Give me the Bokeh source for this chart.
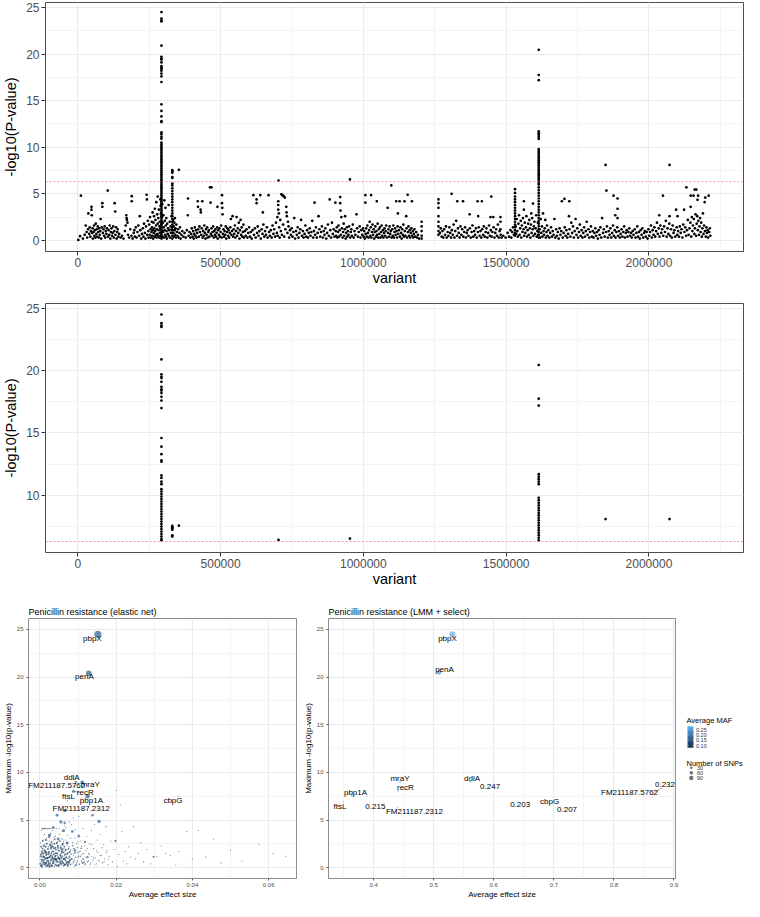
import numpy as np
from bokeh.plotting import figure
from bokeh.layouts import column, row
from bokeh.models import (Range1d, FixedTicker, NumeralTickFormatter, Span, ColumnDataSource,
                          LinearColorMapper)
from bokeh.core.properties import value
from bokeh.embed import file_html
from bokeh.resources import INLINE

FONT = "Liberation Sans"
THRESHOLD = 6.3

# ---------------- Manhattan data (position in kb, -log10 p) ----------------
peak_pbpx_kb = 293
peak_pbpx_logp = [24.5, 23.8, 23.6, 23.5, 20.9, 19.7, 19.5, 19.4, 19.1, 18.7, 18.5, 18.4, 18.2, 17.9,
                  17.6, 17.0, 14.6, 13.9, 13.3, 12.8, 12.7, 11.6, 11.4, 11.1, 10.9, 10.5, 10.3, 10.1,
                  9.9, 9.7, 9.5, 9.3, 9.1, 8.9, 8.7, 8.5, 8.3, 8.1, 7.9, 7.7, 7.5, 7.3, 7.1, 6.9, 6.7,
                  6.5, 6.4, 6.2, 6.0, 5.8, 5.6, 5.4, 5.2, 5.0, 4.8, 4.6, 4.4, 4.2, 4.0, 3.8, 3.6, 3.4,
                  3.2, 3.0, 2.8, 2.6, 2.4, 2.2, 2.0, 1.8, 1.6, 1.4, 1.2, 1.0, 0.8, 0.6, 0.4, 0.2]
peak_331_kb = 331
peak_331_logp = [7.55, 7.45, 7.35, 7.25, 6.8, 6.7, 6.1, 5.9, 5.6, 5.3, 5.0, 4.7, 4.4, 4.1, 3.8, 3.5,
                 3.2, 2.9, 2.6, 2.3, 2.0, 1.7, 1.4, 1.1, 0.8, 0.5, 0.2]
peak_penA_kb = 1614
peak_penA_logp = [20.45, 17.75, 17.2, 11.7, 11.5, 11.3, 11.1, 10.9, 9.8, 9.6, 9.4, 9.2, 9.0, 8.8, 8.6,
                  8.4, 8.2, 8.0, 7.8, 7.6, 7.4, 7.2, 7.0, 6.8, 6.6, 6.4, 6.2, 6.0, 5.7, 5.4, 5.1, 4.8,
                  4.5, 4.2, 3.9, 3.6, 3.3, 3.0, 2.7, 2.4, 2.1, 1.8, 1.5, 1.2, 0.9, 0.6, 0.3]
peak_1531_kb = 1531
peak_1531_logp = [5.5, 5.1, 4.7, 4.4, 4.1, 3.8, 3.5, 3.2, 2.9, 2.6, 2.3, 2.0, 1.7, 1.4, 1.1, 0.8, 0.5]
peak_1263_kb = 1263
peak_1263_logp = [4.4, 4.0, 3.5, 2.6, 2.0, 1.5, 1.0, 0.6]
peak_1204_kb = 1204
peak_1204_logp = [2.0, 1.5, 1.0, 0.5, 0.2]

background_snps = [
    (2,0.05),(8,0.45),(11,4.8),(18,0.2),(24,0.6),(28,1.6),(31,0.9),(33,0.3),(36,1.2),(37,2.9),(40,0.7),(42,1.4),(44,0.4),(46,1.0),(48,3.6),(48,3.3),(49,2.7),(50,0.8),(52,1.3),(53,0.2),(55,0.9),(57,1.6),(58,0.5),(60,1.1),(62,0.3),(63,1.8),(65,0.7),(67,1.2),(68,0.4),(70,1.5),(72,0.9),(74,0.3),(75,1.3),(77,0.6),(79,1.0),(80,2.3),(82,0.2),(84,1.4),(86,4.0),(86,3.6),(88,0.8),(90,1.2),(92,0.5),(94,1.5),(96,0.3),(98,1.0),
    (100,0.7),(102,1.3),(105,5.35),(106,0.4),(108,1.1),(110,0.6),(112,1.6),(114,0.2),(116,0.9),(118,1.3),(120,0.5),(122,0.8),(124,1.5),(126,0.3),(128,1.0),(129,4.0),(131,3.1),(132,0.6),(134,1.4),(136,0.2),(138,0.9),(140,1.2),(142,0.4),(145,0.7),(150,0.3),(155,0.5),(160,0.2),(165,1.0),(168,1.6),(170,2.7),(171,2.4),(172,2.2),(174,1.9),(176,0.6),(180,0.3),(184,1.2),(188,0.5),(189,4.75),(189,4.2),(192,0.2),(196,0.8),(198,1.1),
    (200,0.4),(203,1.4),(206,0.3),(209,0.9),(212,1.6),(215,0.5),(217,2.6),(219,1.1),(222,0.2),(225,0.7),(228,1.3),(230,0.4),(232,1.8),(235,0.8),(237,0.2),(239,1.5),(241,4.9),(242,4.4),(243,0.6),(245,2.1),(247,1.0),(248,0.3),(250,1.7),(252,0.6),(253,2.5),(255,1.2),(256,0.3),(258,0.9),(259,2.0),(260,1.4),(261,0.5),(262,3.0),(263,1.1),(264,0.2),(265,1.9),(266,0.8),(267,2.6),(268,1.3),(269,0.4),(270,3.4),(271,1.0),(272,2.2),(273,0.6),(274,1.6),(275,4.1),(276,0.3),(277,1.2),(278,2.8),(279,0.7),(280,4.7),(280,1.8),(281,0.5),(282,2.4),(283,1.1),(284,3.3),(285,0.3),(286,1.5),(287,2.0),(288,0.8),(289,4.4),(289,1.3),(290,3.7),(290,0.5),(291,2.9),(292,1.7),(295,2.5),(295,1.0),(296,3.9),(297,0.4),(298,1.9),(299,0.9),(300,2.7),(301,1.4),(302,0.3),
    (303,4.3),(304,1.1),(305,2.1),(306,0.6),(307,3.5),(308,1.6),(309,0.4),(310,2.4),(311,1.0),(312,0.2),(313,1.8),(315,0.7),(316,1.3),(318,3.8),(319,0.5),(320,1.1),(322,2.0),(323,0.3),(325,1.5),(326,0.8),(328,2.6),(329,1.2),(334,2.2),(335,0.8),(336,1.5),(337,0.4),(338,1.9),(339,1.1),(340,2.4),(341,0.6),(342,1.3),(344,0.3),(345,1.7),(347,0.9),(349,0.5),(351,1.2),(353,0.3),(354,7.57),(356,0.8),(358,1.4),(360,0.2),(363,0.6),(366,1.0),(370,0.4),(374,0.8),(378,0.3),(382,1.1),(385,2.7),(386,4.5),(388,0.5),(391,0.9),(394,0.3),(397,0.7),(399,1.3),
    (402,0.4),(404,1.0),(406,0.2),(408,0.7),(410,1.4),(412,0.5),(414,1.1),(416,0.3),(418,0.8),(420,4.2),(421,3.6),(422,1.2),(424,0.4),(426,1.5),(428,0.9),(430,3.3),(431,3.0),(432,0.6),(434,1.3),(436,4.2),(437,0.3),(439,1.0),(441,0.5),(443,1.6),(445,0.8),(447,0.2),(449,1.2),(451,0.6),(453,1.4),(455,0.3),(457,0.9),(459,1.1),(461,0.4),(463,5.7),(468,5.7),(465,4.05),(466,0.7),(468,1.3),(470,0.5),(472,0.9),(474,1.5),(476,0.3),(478,1.0),(480,0.6),(482,1.2),(484,0.4),(486,0.8),(488,1.4),(489,3.6),(490,0.2),(492,1.1),(494,0.6),(496,1.3),(498,0.4),
    (500,0.9),(502,1.6),(504,0.3),(505,4.85),(505,4.0),(506,3.5),(507,2.8),(508,0.7),(510,1.2),(512,0.4),(514,1.0),(516,0.6),(518,1.5),(520,0.2),(522,0.9),(524,1.3),(526,0.5),(528,1.1),(530,0.3),(532,0.8),(534,1.4),(536,2.3),(538,0.6),(540,1.0),(542,2.6),(544,0.4),(546,1.2),(548,0.7),(550,1.6),(552,0.3),(554,1.0),(556,2.5),(558,0.5),(560,1.3),(562,0.8),(564,1.9),(566,0.2),(568,1.1),(570,2.2),(572,0.6),(574,1.4),(576,0.4),(578,0.9),(580,1.7),(582,0.3),(585,1.0),(588,0.5),(591,1.2),(594,0.3),(597,0.8),
    (600,1.4),(603,0.4),(606,0.9),(609,0.2),(612,1.1),(615,4.85),(617,0.6),(620,1.3),(623,0.3),(626,4.4),(626,4.0),(628,0.8),(630,1.5),(633,0.5),(636,1.0),(639,4.85),(641,0.2),(644,1.2),(647,0.7),(648,3.0),(650,1.7),(653,0.4),(656,1.0),(659,0.6),(662,1.4),(665,0.3),(668,4.85),(670,0.9),(673,0.5),(676,1.1),(679,0.3),(682,1.6),(685,0.7),(688,1.2),(691,0.4),(694,1.9),(697,0.8),(699,2.5),
    (700,0.5),(702,4.2),(702,3.8),(702,3.3),(703,6.43),(704,2.9),(705,1.4),(707,0.3),(709,2.2),(711,1.0),(713,4.95),(715,0.6),(717,4.85),(719,1.7),(721,4.75),(723,0.4),(725,4.6),(727,1.2),(730,3.6),(731,3.0),(732,2.6),(734,0.8),(736,2.0),(738,1.5),(740,0.3),(743,1.1),(746,0.6),(749,1.3),(752,0.4),(755,0.9),(758,2.4),(761,0.2),(764,1.0),(767,0.6),(770,1.4),(773,0.3),(776,0.8),(779,1.2),(782,2.2),(785,0.5),(788,1.0),(791,0.3),(794,0.7),(797,1.6),
    (800,0.4),(803,1.1),(806,0.3),(809,0.8),(812,1.3),(815,0.5),(818,0.9),(821,2.1),(824,0.3),(827,1.0),(829,4.05),(831,0.6),(834,1.4),(837,0.3),(840,0.8),(843,2.6),(846,1.2),(849,0.4),(852,0.9),(855,1.5),(858,0.3),(861,1.0),(864,0.6),(867,1.3),(870,0.2),(873,0.8),(876,1.7),(879,0.5),(882,4.4),(884,1.1),(887,0.3),(890,1.9),(893,0.7),(896,1.2),(899,0.4),
    (902,4.05),(903,1.0),(905,0.5),(907,1.4),(909,0.3),(911,0.9),(913,1.6),(915,0.4),(917,1.1),(919,4.65),(919,4.0),(920,3.2),(921,0.6),(923,2.5),(925,1.3),(927,0.3),(929,0.9),(931,1.8),(933,0.5),(935,1.2),(936,2.6),(938,0.2),(940,0.8),(942,1.4),(944,0.4),(946,1.0),(948,0.6),(950,1.5),(953,6.54),(954,0.3),(956,0.9),(958,1.2),(960,0.5),(963,1.7),(966,0.3),(969,1.0),(972,0.6),(976,2.8),(978,1.3),(981,0.4),(984,0.9),(987,1.5),(990,0.3),(993,1.1),(996,0.6),(999,1.3),
    (1001,0.4),(1003,1.0),(1005,0.2),(1007,4.85),(1007,4.05),(1008,0.7),(1010,1.3),(1012,0.4),(1014,1.6),(1016,0.8),(1018,0.3),(1020,1.1),(1022,2.0),(1024,0.5),(1026,1.4),(1027,4.85),(1028,0.3),(1030,0.9),(1032,1.7),(1034,0.6),(1036,1.2),(1038,0.2),(1040,0.9),(1042,1.5),(1044,0.4),(1046,1.0),(1047,4.2),(1048,0.6),(1050,1.8),(1052,0.3),(1054,1.2),(1056,0.7),(1058,1.4),(1060,0.3),(1062,0.9),(1064,1.6),(1066,0.5),(1068,1.1),(1070,0.3),(1072,0.8),(1074,1.3),(1076,0.5),(1078,1.0),(1080,1.6),(1082,0.3),(1085,3.5),(1086,0.8),(1088,1.2),(1090,0.4),(1092,1.5),(1094,0.7),(1096,1.0),(1098,5.9),(1099,0.3),
    (1101,1.2),(1103,0.5),(1105,1.6),(1107,0.3),(1109,0.9),(1111,1.3),(1113,0.6),(1115,4.2),(1116,1.0),(1118,0.3),(1120,1.5),(1121,2.9),(1122,0.7),(1124,1.1),(1127,4.2),(1128,0.4),(1130,1.4),(1132,0.8),(1134,0.2),(1136,1.2),(1138,0.6),(1140,1.7),(1142,0.4),(1144,4.2),(1145,1.0),(1147,0.5),(1150,2.6),(1151,1.3),(1153,0.3),(1155,4.9),(1156,0.9),(1158,1.5),(1160,0.5),(1162,1.1),(1164,0.3),(1166,0.8),(1168,1.3),(1170,4.2),(1171,0.5),(1173,1.0),(1175,0.3),(1177,0.7),(1179,1.2),(1182,0.4),(1185,0.9),(1188,0.3),(1191,0.6),(1195,0.2),
    (1268,0.8),(1271,1.3),(1274,0.4),(1277,1.0),(1280,0.3),(1283,1.2),(1286,0.6),(1289,1.5),(1292,0.3),(1295,0.9),(1298,0.5),(1301,1.4),(1304,0.8),(1307,0.3),(1309,5.0),(1310,1.1),(1313,0.6),(1316,1.7),(1319,0.3),(1322,1.0),(1325,2.1),(1328,0.5),(1329,4.2),(1331,1.3),(1334,0.8),(1337,0.3),(1340,1.5),(1343,0.6),(1346,1.2),(1349,4.2),(1350,0.4),(1353,0.9),(1356,1.4),(1359,0.3),(1362,0.8),(1365,1.1),(1368,0.5),(1372,2.8),(1373,1.3),(1376,0.3),(1379,0.9),(1382,1.6),(1385,0.4),(1388,1.0),(1391,0.6),(1394,1.3),(1397,0.3),
    (1400,4.2),(1401,0.9),(1402,2.6),(1404,1.4),(1407,0.5),(1410,1.0),(1413,0.3),(1415,4.2),(1416,1.2),(1419,0.6),(1422,1.5),(1425,0.4),(1428,0.9),(1431,1.3),(1434,0.3),(1437,0.8),(1440,1.6),(1443,0.5),(1445,2.5),(1446,1.1),(1448,4.7),(1449,0.4),(1452,0.9),(1455,2.5),(1456,1.4),(1459,0.3),(1462,0.8),(1465,1.2),(1468,0.5),(1471,1.7),(1474,0.3),(1477,1.0),(1480,2.5),(1480,2.0),(1480,1.2),(1481,0.6),(1484,0.3),(1490,0.5),(1498,0.3),(1505,0.8),(1510,0.4),(1515,1.1),(1518,0.3),(1521,0.9),(1524,1.4),(1527,0.6),
    (1533,1.5),(1535,0.7),(1537,2.3),(1539,1.0),(1541,0.4),(1543,1.8),(1545,2.7),(1547,0.6),(1549,1.3),(1551,2.1),(1553,0.3),(1555,1.6),(1557,0.9),(1559,2.4),(1561,1.2),(1562,4.2),(1562,3.3),(1563,0.5),(1565,1.9),(1567,0.8),(1569,1.4),(1571,2.6),(1573,0.4),(1575,1.1),(1577,1.8),(1579,0.6),(1581,2.2),(1583,1.3),(1585,0.3),(1587,1.7),(1588,2.9),(1589,0.8),(1591,2.4),(1593,1.2),(1594,3.95),(1595,0.5),(1597,1.5),(1599,2.0),(1601,0.7),(1603,1.3),(1605,2.7),(1607,0.4),(1609,1.0),(1611,1.9),(1612,0.6),
    (1617,1.2),(1619,0.3),(1621,2.3),(1623,0.8),(1625,1.5),(1627,0.4),(1629,2.9),(1631,1.0),(1633,0.6),(1635,1.3),(1637,2.2),(1639,0.3),(1641,0.9),(1643,1.6),(1645,0.5),(1648,1.1),(1651,0.3),(1654,0.8),(1657,1.4),(1660,0.4),(1663,1.0),(1666,0.6),(1669,2.3),(1672,0.3),(1675,1.2),(1678,0.5),(1681,0.9),(1684,0.2),(1687,1.3),(1690,0.6),(1693,1.0),(1695,4.2),(1698,0.3),(1701,0.8),(1704,4.45),(1705,1.4),(1708,0.5),(1711,1.1),(1714,0.3),(1717,0.7),(1720,2.6),(1721,4.2),(1722,1.2),(1725,0.4),(1728,1.9),(1731,0.8),(1734,1.5),(1737,0.3),(1740,1.0),(1743,2.3),(1746,0.6),(1749,1.3),(1752,0.3),(1755,0.9),(1758,1.7),(1761,0.5),(1764,1.1),(1767,0.3),(1770,0.8),(1773,1.4),(1776,0.4),(1779,1.0),(1782,2.0),(1785,0.6),(1788,1.2),(1791,0.3),(1794,0.9),(1797,1.5),
    (1800,0.4),(1803,1.0),(1806,0.3),(1809,0.8),(1812,1.3),(1815,0.5),(1818,0.9),(1821,0.2),(1824,1.1),(1827,0.6),(1830,1.4),(1833,0.3),(1836,2.4),(1839,0.8),(1842,1.2),(1845,0.4),(1848,8.1),(1851,5.35),(1850,0.9),(1853,1.5),(1856,0.3),(1859,1.0),(1862,0.6),(1865,1.3),(1868,0.3),(1871,0.8),(1874,1.6),(1876,4.8),(1877,0.5),(1880,1.1),(1882,2.7),(1883,0.3),(1886,0.9),(1889,1.4),(1890,4.5),(1890,3.4),(1890,2.4),(1892,0.5),(1895,1.0),(1898,0.3),(1901,0.7),(1904,1.2),(1907,0.4),(1910,0.9),(1913,1.5),(1916,0.3),(1919,0.8),(1922,1.1),(1925,0.4),(1928,0.9),(1931,1.3),(1934,0.5),(1937,0.8),(1940,0.3),(1943,1.0),(1946,0.6),
    (1950,1.2),(1953,0.3),(1956,0.8),(1959,1.5),(1962,0.4),(1965,0.9),(1968,0.2),(1971,1.1),(1974,0.6),(1977,1.3),(1980,0.3),(1983,0.8),(1986,1.0),(1989,0.4),(1992,0.9),(1995,0.2),(1998,1.2),(2001,0.5),(2004,0.9),(2007,1.6),(2010,0.3),(2013,1.1),(2016,0.6),(2019,1.4),(2022,0.4),(2025,1.0),(2028,1.9),(2031,0.7),(2034,1.3),(2036,2.7),(2037,0.4),(2040,1.6),(2043,0.8),(2046,1.2),(2049,4.8),(2050,0.5),(2053,1.5),(2056,0.9),(2059,2.1),(2062,0.4),(2065,1.3),(2068,0.7),(2071,1.8),(2072,8.1),(2072,2.6),(2074,0.5),(2077,1.2),(2080,0.3),(2083,1.6),(2086,0.8),(2089,1.1),(2092,0.4),(2095,3.3),(2097,1.4),(2099,0.6),
    (2100,2.6),(2102,1.0),(2105,0.4),(2108,1.5),(2111,0.8),(2114,1.2),(2117,0.3),(2120,1.7),(2123,3.3),(2124,0.9),(2127,1.4),(2130,0.5),(2131,5.7),(2133,1.1),(2136,2.2),(2139,0.6),(2142,1.3),(2145,1.9),(2146,4.8),(2146,3.6),(2148,0.4),(2150,2.5),(2152,1.0),(2154,1.6),(2156,4.8),(2157,2.3),(2159,0.7),(2160,5.45),(2161,1.3),(2163,2.8),(2165,0.5),(2166,5.45),(2167,1.8),(2169,2.6),(2170,4.35),(2171,1.1),(2172,4.8),(2173,2.1),(2175,0.6),(2177,1.5),(2179,2.4),(2181,0.9),(2183,1.9),(2185,0.4),(2187,1.3),(2189,2.9),(2191,0.7),(2193,1.6),(2195,4.1),(2196,1.0),(2197,4.6),(2199,0.4),(2201,1.4),(2203,0.8),(2205,1.1),(2207,0.3),(2209,4.8),(2211,0.9),(2213,1.3),(2215,0.5),
]

# ---------------- Gene summary: elastic net ----------------
enet_genes = ["pbpX", "penA", "ddlA", "mraY", "FM211187.5762", "recR", "ftsL", "pbp1A", "FM211187.2312", "cbpG"]
enet_gene_effect = [0.0152, 0.0128, 0.0094, 0.0111, 0.0091, 0.0088, 0.0072, 0.0125, 0.0065, 0.0363]
enet_gene_logp = [24.5, 20.4, 9.0, 8.95, 8.55, 8.0, 7.0, 7.5, 6.0, 7.5]
enet_gene_maf = [0.17, 0.16, 0.19, 0.16, 0.14, 0.17, 0.18, 0.16, 0.17, 0.14]
enet_gene_nsnp = [240, 150, 30, 75, 12, 40, 8, 95, 55, 3]
enet_label_x = [0.01375, 0.01167, 0.00833, 0.0132, 0.0044, 0.0119, 0.0075, 0.0135, 0.0108, 0.0349]
enet_label_y = [24.0, 20.06, 9.47, 8.7, 8.58, 7.9, 7.42, 7.05, 6.23, 7.08]

# other genes: (effect, max -log10 p, MAF, number of SNPs)
enet_other = [
    (0.0045,5.5,0.17,40),(0.0055,4.8,0.16,50),(0.0035,4.2,0.15,40),(0.0062,3.9,0.17,45),(0.0085,3.8,0.18,35),(0.0025,3.4,0.14,45),(0.0048,3.0,0.16,40),(0.0072,2.6,0.15,30),(0.0102,3.3,0.17,35),(0.0118,2.7,0.16,25),(0.0138,5.5,0.18,35),(0.0155,4.85,0.18,60),(0.0065,4.7,0.2,35),(0.003,2.2,0.15,35),(0.0015,1.6,0.13,40),(0.0058,1.9,0.14,35),(0.0092,1.8,0.16,30),(0.0042,0.9,0.15,30),(0.0075,0.6,0.16,30),(0.0125,1.1,0.18,25),(0.0112,0.5,0.17,25),(0.0198,2.8,0.15,25),(0.0298,1.15,0.15,20),(0.0022,0.3,0.15,30),(0.0065,0.3,0.2,30),
    (0.0003,1.4,0.10,20),(0.0005,0.1,0.12,15),(0.0007,2.0,0.11,18),(0.0009,1.2,0.13,22),(0.0012,0.5,0.10,16),(0.0015,2.2,0.12,19),(0.0018,1.0,0.14,25),(0.0022,1.4,0.11,17),(0.0025,0.1,0.10,20),(0.0029,2.0,0.13,21),(0.0032,1.2,0.12,16),(0.0035,0.7,0.11,23),(0.0038,2.5,0.14,18),(0.0041,1.5,0.12,20),(0.0044,0.2,0.11,15),(0.0047,2.1,0.13,22),(0.0050,1.0,0.12,18),(0.0053,0.6,0.10,20),(0.0056,1.5,0.14,16),(0.0059,2.4,0.12,19),(0.0062,0.9,0.11,17),(0.0067,1.8,0.13,15),(0.0070,0.4,0.12,18),(0.0077,1.6,0.11,14),(0.0082,0.9,0.13,16),(0.0089,2.0,0.12,13),(0.0095,0.3,0.11,15),(0.0101,1.2,0.13,12),(0.0108,2.0,0.12,11),(0.0116,0.6,0.11,12),
    (0.0001,0.9,0.08,4),(0.0002,2.6,0.10,5),(0.0004,3.9,0.12,4),(0.0006,0.3,0.09,6),(0.0009,2.9,0.11,5),(0.0012,3.5,0.10,6),(0.0014,1.6,0.13,4),(0.0016,0.1,0.09,7),(0.0019,2.9,0.12,5),(0.0022,2.2,0.11,6),(0.0025,1.6,0.10,4),(0.0028,0.6,0.12,8),(0.0032,3.9,0.11,5),(0.0035,2.9,0.10,6),(0.0038,0.1,0.13,7),(0.0041,3.3,0.12,5),(0.0044,2.5,0.11,4),(0.0047,1.0,0.10,6),(0.0050,4.1,0.12,4),(0.0053,2.0,0.11,5),(0.0056,0.3,0.13,6),(0.0059,3.8,0.10,4),(0.0062,2.7,0.12,5),(0.0065,1.3,0.11,6),(0.0068,4.2,0.10,3),(0.0071,2.4,0.13,4),(0.0074,1.9,0.12,5),(0.0077,4.8,0.11,3),(0.0080,3.1,0.10,4),(0.0087,5.2,0.12,3),(0.0093,4.0,0.11,3),(0.0099,2.7,0.12,4),
    (0.0002,0.2,0.09,6),(0.0004,0.6,0.10,8),(0.0006,1.1,0.11,5),(0.0008,0.4,0.09,10),(0.0010,1.8,0.12,7),(0.0011,0.8,0.10,12),(0.0013,2.4,0.11,6),(0.0014,0.3,0.09,9),(0.0016,1.3,0.12,11),(0.0017,3.1,0.10,5),(0.0019,0.7,0.11,14),(0.0020,4.1,0.12,4),(0.0021,1.9,0.09,8),(0.0023,0.5,0.10,12),(0.0024,2.8,0.13,6),(0.0026,1.1,0.11,15),(0.0027,0.2,0.09,7),(0.0028,3.6,0.12,9),(0.0030,1.5,0.10,11),(0.0031,0.9,0.13,13),(0.0033,2.5,0.11,8),(0.0034,0.4,0.10,10),(0.0036,1.7,0.12,12),(0.0037,3.2,0.14,7),(0.0039,1.0,0.09,9),(0.0040,2.1,0.11,15),(0.0042,0.6,0.10,6),(0.0043,4.1,0.13,5),(0.0045,1.3,0.12,12),(0.0046,2.7,0.10,8),(0.0048,0.3,0.11,10),(0.0049,1.8,0.14,9),(0.0051,3.5,0.12,7),(0.0052,0.8,0.10,13),(0.0054,2.3,0.11,6),(0.0055,1.2,0.13,11),(0.0057,0.5,0.09,8),(0.0058,3.0,0.12,10),(0.0060,1.6,0.10,7),(0.0061,0.2,0.11,12),(0.0063,2.0,0.13,9),(0.0064,4.4,0.12,6),(0.0066,1.0,0.10,14),(0.0068,2.9,0.11,5),(0.0069,0.6,0.12,8),(0.0071,1.4,0.09,10),(0.0073,3.4,0.13,7),(0.0074,0.3,0.10,11),(0.0076,2.2,0.11,6),(0.0078,1.1,0.12,9),(0.0079,0.7,0.10,12),(0.0081,1.9,0.14,8),(0.0083,4.5,0.11,5),(0.0084,0.4,0.10,7),(0.0086,2.6,0.12,10),(0.0088,1.3,0.11,6),(0.0090,0.8,0.13,9),(0.0092,3.1,0.10,4),(0.0094,1.6,0.12,8),(0.0096,0.5,0.11,6),(0.0098,2.1,0.10,7),(0.0100,1.0,0.13,5),(0.0102,5.4,0.12,4),(0.0103,0.3,0.10,6),(0.0105,1.7,0.11,8),(0.0107,2.8,0.12,5),(0.0109,0.7,0.10,7),(0.0111,1.4,0.13,4),(0.0113,4.1,0.11,3),(0.0115,0.9,0.10,6),(0.0117,2.3,0.12,5),(0.0119,0.4,0.11,7),(0.0121,1.8,0.10,4),(0.0123,3.3,0.13,3),(0.0125,0.6,0.11,5),(0.0128,1.5,0.10,6),(0.0130,2.5,0.12,4),(0.0132,0.3,0.11,5),(0.0134,3.9,0.10,3),(0.0136,1.2,0.12,4),(0.0139,0.8,0.11,6),(0.0141,2.0,0.10,3),(0.0143,4.5,0.13,2),(0.0145,1.0,0.11,4),(0.0148,0.4,0.10,5),(0.0150,2.9,0.12,3),(0.0152,1.6,0.11,4),(0.0155,0.7,0.10,3),(0.0158,3.5,0.12,2),(0.0161,1.3,0.11,3),(0.0164,0.5,0.10,4),(0.0167,2.4,0.12,2),(0.0170,0.9,0.11,3),(0.0173,4.3,0.10,2),(0.0176,1.8,0.12,2),(0.0179,0.3,0.11,3),(0.0182,1.2,0.10,2),(0.0186,2.8,0.12,2),(0.0190,0.6,0.11,2),(0.0194,1.9,0.10,3),(0.0200,8.1,0.12,1),(0.0203,0.1,0.11,2),(0.0207,1.4,0.10,2),(0.0211,6.6,0.12,1),(0.0215,3.8,0.11,2),(0.0219,0.7,0.10,2),(0.0224,1.7,0.12,1),(0.0228,0.4,0.11,2),(0.0233,2.2,0.10,1),(0.0238,1.1,0.12,2),(0.0245,4.3,0.11,2),(0.0250,0.9,0.10,1),(0.0258,1.5,0.12,2),(0.0265,2.6,0.11,1),(0.0272,0.6,0.10,1),(0.0280,1.9,0.12,1),(0.0290,0.4,0.11,2),(0.0305,1.2,0.10,3),(0.0318,2.3,0.12,1),(0.0330,1.5,0.11,1),(0.0342,1.3,0.10,1),(0.0356,0.25,0.12,1),(0.0365,1.7,0.11,1),(0.0385,3.8,0.10,1),(0.0400,0.9,0.12,1),(0.0415,3.9,0.11,1),(0.0435,1.1,0.10,1),(0.0455,3.0,0.12,1),(0.0475,0.5,0.11,1),(0.0500,1.8,0.10,1),(0.0530,0.7,0.12,1),(0.0575,2.4,0.11,1),(0.0612,1.5,0.10,2),(0.0645,1.2,0.12,1),
    (0.0001,0.4,0.10,18),(0.0002,1.2,0.11,22),(0.0003,2.2,0.12,16),(0.0004,0.2,0.09,25),(0.0005,1.7,0.10,20),(0.0006,0.8,0.12,28),(0.0007,2.8,0.11,14),(0.0008,1.5,0.10,24),(0.0009,0.6,0.09,19),(0.0010,2.3,0.12,21),(0.0011,1.1,0.11,26),(0.0012,0.3,0.10,17),(0.0013,1.8,0.09,23),(0.0014,0.9,0.12,20),(0.0015,2.9,0.11,15),(0.0016,0.5,0.10,27),(0.0017,1.4,0.13,22),(0.0018,2.5,0.09,18),(0.0019,0.2,0.11,24),(0.0020,1.0,0.10,29),(0.0021,2.0,0.12,16),(0.0022,0.7,0.11,21),(0.0023,1.6,0.09,25),(0.0024,3.2,0.10,14),(0.0025,1.1,0.12,23),(0.0026,0.4,0.11,19),(0.0027,2.4,0.10,26),(0.0028,1.3,0.09,20),(0.0029,0.8,0.12,22),(0.0030,2.7,0.11,17),(0.0031,0.2,0.10,28),(0.0032,1.7,0.13,21),(0.0033,1.0,0.09,24),(0.0034,2.2,0.11,18),(0.0035,0.5,0.10,25),(0.0036,1.4,0.12,20),(0.0037,2.0,0.11,16),(0.0038,0.9,0.09,27),(0.0039,3.0,0.12,15),(0.0040,1.2,0.10,23),(0.0041,0.3,0.11,19),(0.0042,1.9,0.13,22),(0.0043,0.8,0.10,26),(0.0044,2.6,0.09,17),(0.0045,1.5,0.12,21),(0.0046,0.6,0.11,24),(0.0047,2.3,0.10,18),(0.0048,1.1,0.12,20),(0.0049,0.2,0.09,25),(0.0050,1.8,0.11,16),(0.0051,0.9,0.10,22),(0.0052,2.8,0.12,14),(0.0053,1.3,0.11,19),(0.0054,0.4,0.09,23),(0.0055,2.1,0.10,18),(0.0056,1.0,0.12,21),(0.0057,1.7,0.11,16),(0.0058,0.7,0.10,20),(0.0059,1.2,0.13,17),(0.0060,2.5,0.09,15),(0.0061,0.5,0.11,22),(0.0062,1.6,0.10,18),(0.0063,0.9,0.12,20),(0.0064,2.2,0.11,14),(0.0065,0.3,0.10,19),(0.0066,1.4,0.09,16),(0.0067,0.8,0.12,18),(0.0068,1.9,0.11,13),(0.0069,1.1,0.10,17),(0.0070,2.6,0.12,12),(0.0071,0.6,0.11,15),(0.0072,1.5,0.09,14),(0.0073,0.2,0.10,16),(0.0074,1.0,0.12,13),(0.0075,2.0,0.11,12),(0.0076,0.5,0.10,15),(0.0077,1.2,0.13,11),(0.0078,0.8,0.09,14),(0.0079,1.7,0.11,12),(0.0080,0.3,0.10,13),(0.0082,1.4,0.12,11),(0.0084,0.9,0.11,12),(0.0086,2.3,0.10,10),(0.0088,0.6,0.09,12),(0.0090,1.5,0.12,10),(0.0092,0.2,0.11,11),(0.0094,1.1,0.10,9),(0.0096,2.5,0.12,8),(0.0098,0.7,0.11,10),(0.0100,1.6,0.10,9),(0.0103,0.4,0.12,8),(0.0106,1.2,0.11,9),(0.0109,2.2,0.10,7),(0.0112,0.9,0.12,8),(0.0115,1.5,0.11,7),(0.0118,0.3,0.10,8),(0.0121,1.1,0.12,6),(0.0124,2.0,0.11,6),(0.0127,0.7,0.10,7),(0.0130,1.4,0.12,5),(0.0133,0.5,0.11,6),(0.0136,2.4,0.10,5),(0.0140,1.0,0.12,5),(0.0144,0.3,0.11,4),(0.0148,1.8,0.10,4),(0.0153,0.8,0.12,4),(0.0158,1.3,0.11,3),(0.0163,2.1,0.10,3),(0.0168,0.6,0.12,3),(0.0174,1.6,0.11,3),(0.0180,0.9,0.10,2),
    (0.0006,4.1,0.09,12),(0.0011,4.1,0.09,14),(0.0016,4.1,0.10,10),(0.0024,4.1,0.09,12),(0.0029,4.1,0.10,9),
]

# ---------------- Gene summary: LMM + select ----------------
lmm_genes = ["pbpX", "penA", "mraY", "recR", "ddlA", "pbp1A", "ftsL", "FM211187.2312", "cbpG", "FM211187.5762"]
lmm_effect = [0.531, 0.509, 0.444, 0.441, 0.561, 0.364, 0.350, 0.440, 0.705, 0.879]
lmm_logp = [24.5, 20.5, 9.0, 8.06, 9.0, 7.55, 6.9, 6.3, 6.75, 8.3]
lmm_maf = [0.25, 0.21, 0.24, 0.24, 0.23, 0.24, 0.20, 0.20, 0.20, 0.20]
lmm_nsnp = [170, 105, 14, 14, 14, 16, 3, 3, 3, 3]
lmm_labels = ["pbpX", "penA", "mraY", "recR", "ddlA", "0.247", "pbp1A", "ftsL", "0.215",
              "FM211187.2312", "0.203", "cbpG", "0.207", "FM211187.5762", "0.232"]
lmm_label_x = [0.523, 0.518, 0.444, 0.453, 0.564, 0.594, 0.370, 0.344, 0.403, 0.468, 0.644, 0.693, 0.722, 0.826, 0.885]
lmm_label_y = [24.0, 20.8, 9.35, 8.4, 9.35, 8.5, 7.9, 6.46, 6.46, 5.88, 6.63, 6.97, 6.05, 7.9, 8.74]

maf_breaks = [0.10, 0.15, 0.20, 0.25]
nsnp_breaks = [30, 60, 90]
MAF_LOW, MAF_HIGH = 0.08, 0.28

# ---------------- helpers ----------------
def snp_size(n):
    return np.maximum(0.46 * np.sqrt(np.asarray(n, dtype=float)), 1.1)

lo, hi = (0x13, 0x2B, 0x43), (0x56, 0xB1, 0xF7)
palette = ["#%02x%02x%02x" % tuple(int(round(lo[k] + (hi[k] - lo[k]) * t)) for k in range(3))
           for t in np.linspace(0, 1, 256)]
maf_mapper = LinearColorMapper(palette=palette, low=MAF_LOW, high=MAF_HIGH)


def base_fig(width, height, xr, yr, mbl, mbr, mbt, mbb, border):
    p = figure(width=width, height=height, x_range=Range1d(*xr), y_range=Range1d(*yr),
               output_backend="svg", toolbar_location=None,
               min_border_left=mbl, min_border_right=mbr, min_border_top=mbt, min_border_bottom=mbb)
    p.outline_line_color = border
    p.outline_line_width = 1
    p.background_fill_color = "white"
    p.border_fill_color = "white"
    for g in (p.xgrid, p.ygrid):
        g.grid_line_color = "#EBEBEB"
        g.grid_line_width = 1.1
        g.minor_grid_line_color = "#EBEBEB"
        g.minor_grid_line_width = 0.55
    for ax in (p.xaxis, p.yaxis):
        ax.axis_line_color = None
        ax.minor_tick_line_color = None
        ax.major_tick_in = 0
        ax.major_tick_line_color = "#333333"
        ax.major_label_text_font = FONT
        ax.axis_label_text_font = FONT
        ax.axis_label_text_font_style = "normal"
        ax.major_label_text_color = "#4D4D4D"
        ax.axis_label_text_color = "black"
    return p


def style_big(p):
    for ax in (p.xaxis, p.yaxis):
        ax.major_tick_out = 4
        ax.major_label_standoff = 2
        ax.major_label_text_font_size = "12px"
        ax.axis_label_text_font_size = "14.5px"
    p.xaxis.axis_label_standoff = 0
    p.yaxis.axis_label_standoff = 4
    p.xaxis.axis_label = "variant"
    p.yaxis.axis_label = "-log10(P-value)"
    p.xaxis.formatter = NumeralTickFormatter(format="0")
    p.xaxis.ticker = FixedTicker(ticks=[0, 500000, 1000000, 1500000, 2000000],
                                 minor_ticks=[250000, 750000, 1250000, 1750000, 2250000])


def style_small(p, title, xticks, xminor, xfmt):
    for ax in (p.xaxis, p.yaxis):
        ax.major_tick_out = 2
        ax.major_label_standoff = 1
        ax.major_label_text_font_size = "6px"
        ax.axis_label_text_font_size = "8px"
        ax.axis_label_standoff = 1
        ax.major_tick_line_color = "#555555"
    p.xaxis.axis_label_standoff = 0
    p.xaxis.major_label_standoff = 0
    p.xaxis.axis_label = "Average effect size"
    p.yaxis.axis_label = "Maximum -log10(p-value)"
    p.xaxis.ticker = FixedTicker(ticks=xticks, minor_ticks=xminor)
    p.xaxis.formatter = NumeralTickFormatter(format=xfmt)
    p.yaxis.ticker = FixedTicker(ticks=[0, 5, 10, 15, 20, 25], minor_ticks=[2.5, 7.5, 12.5, 17.5, 22.5])
    p.title.text = title
    p.title.text_font = FONT
    p.title.text_font_size = "9px"
    p.title.text_font_style = "normal"
    p.title.text_color = "black"
    p.title.align = "left"
    p.title.standoff = 4
    p.title.offset = 0


# ---------------- arrays ----------------
bg = np.array(background_snps, dtype=float)
pos_kb = np.concatenate([
    bg[:, 0],
    np.full(len(peak_pbpx_logp), peak_pbpx_kb),
    np.full(len(peak_331_logp), peak_331_kb),
    np.full(len(peak_penA_logp), peak_penA_kb),
    np.full(len(peak_1531_logp), peak_1531_kb),
    np.full(len(peak_1263_logp), peak_1263_kb),
    np.full(len(peak_1204_logp), peak_1204_kb),
])
logp = np.concatenate([bg[:, 1], peak_pbpx_logp, peak_331_logp, peak_penA_logp,
                       peak_1531_logp, peak_1263_logp, peak_1204_logp])
pos_bp = pos_kb * 1000.0
sig = logp > THRESHOLD


def threshold_line():
    return Span(location=THRESHOLD, dimension="width", line_color="#F25C5C",
                line_dash="2 2", line_width=0.8, line_alpha=0.8)


# ---------------- top: all variants ----------------
top = base_fig(744, 293, (-113000, 2331000), (-1.19, 25.53), 43, 1, 2, 42, "#4d4d4d")
style_big(top)
top.yaxis.ticker = FixedTicker(ticks=[0, 5, 10, 15, 20, 25], minor_ticks=[2.5, 7.5, 12.5, 17.5, 22.5])
top.scatter(pos_bp, logp, size=2.7, color="black", line_width=0)
top.add_layout(threshold_line())

# ---------------- middle: significant variants ----------------
mid = base_fig(744, 297, (-113000, 2331000), (5.42, 25.38), 43, 1, 10, 38, "#4d4d4d")
style_big(mid)
mid.yaxis.ticker = FixedTicker(ticks=[10, 15, 20, 25], minor_ticks=[7.5, 12.5, 17.5, 22.5])
mid.scatter(pos_bp[sig], logp[sig], size=2.7, color="black", line_width=0)
mid.add_layout(threshold_line())

# ---------------- bottom-left: elastic net ----------------
eo = np.array(enet_other, dtype=float)
enet_src = ColumnDataSource(dict(
    x=np.concatenate([eo[:, 0], enet_gene_effect]),
    y=np.concatenate([eo[:, 1], enet_gene_logp]),
    maf=np.concatenate([eo[:, 2], enet_gene_maf]),
    size=snp_size(np.concatenate([eo[:, 3], enet_gene_nsnp])),
))
bl = base_fig(300, 311, (-0.003, 0.0673), (-1.14, 26.15), 21, 4, 28, 20, "#8c8c8c")
style_small(bl, "Penicillin resistance (elastic net)", [0, 0.02, 0.04, 0.06], [0.01, 0.03, 0.05], "0.00")
bl.scatter("x", "y", size="size", source=enet_src, line_width=0, fill_alpha=0.72,
           fill_color={"field": "maf", "transform": maf_mapper})
bl.segment(x0=[enet_gene_effect[5]], y0=[enet_gene_logp[5]], x1=[enet_label_x[5] - 0.0013],
           y1=[enet_label_y[5]], line_color="#555555", line_width=0.6)
bl.text(x=enet_label_x, y=enet_label_y, text=enet_genes, text_font=value(FONT),
        text_font_size="8px", text_align="center", text_baseline="middle", text_color="black")

# ---------------- bottom-right: LMM + select ----------------
lmm_src = ColumnDataSource(dict(x=lmm_effect, y=lmm_logp, maf=lmm_maf, size=snp_size(lmm_nsnp)))
br = base_fig(380, 311, (0.325, 0.9025), (-1.14, 26.15), 22, 5, 28, 20, "#8c8c8c")
style_small(br, "Penicillin resistance (LMM + select)", [0.4, 0.5, 0.6, 0.7, 0.8, 0.9],
            [0.35, 0.45, 0.55, 0.65, 0.75, 0.85], "0.0")
br.scatter("x", "y", size="size", source=lmm_src, line_width=0, fill_alpha=0.6,
           fill_color={"field": "maf", "transform": maf_mapper})
br.segment(x0=[0.869], y0=[7.95], x1=[0.878], y1=[8.3], line_color="#555555", line_width=0.6)
br.text(x=lmm_label_x, y=lmm_label_y, text=lmm_labels, text_font=value(FONT),
        text_font_size="8px", text_align="center", text_baseline="middle", text_color="black")

# ---------------- legend (pixel-like coordinates, y up) ----------------
leg = figure(width=64, height=311, x_range=Range1d(0, 64), y_range=Range1d(0, 311),
             output_backend="svg", toolbar_location=None, min_border=0,
             x_axis_location=None, y_axis_location=None)
leg.outline_line_color = None
leg.grid.visible = False
leg.background_fill_color = "white"
leg.border_fill_color = "white"

BAR_X, BAR_W, BAR_Y, BAR_H = 7.0, 6.0, 156.5, 25.5
leg.text(x=[6], y=[189], text=["Average MAF"], text_font=value(FONT), text_font_size="7.5px",
         text_baseline="middle", text_color="black")
gradient = np.linspace(MAF_LOW, MAF_HIGH, 120).reshape(120, 1)
leg.image(image=[gradient], x=BAR_X, y=BAR_Y, dw=BAR_W, dh=BAR_H, color_mapper=maf_mapper)
tick_y = [BAR_Y + (m - MAF_LOW) / (MAF_HIGH - MAF_LOW) * BAR_H for m in maf_breaks]
leg.segment(x0=[BAR_X] * 4, x1=[BAR_X + 1.2] * 4, y0=tick_y, y1=tick_y, line_color="white", line_width=0.6)
leg.segment(x0=[BAR_X + BAR_W - 1.2] * 4, x1=[BAR_X + BAR_W] * 4, y0=tick_y, y1=tick_y,
            line_color="white", line_width=0.6)
leg.text(x=[BAR_X + BAR_W + 2.5] * 4, y=tick_y, text=["%.2f" % m for m in maf_breaks],
         text_font=value(FONT), text_font_size="5.5px", text_baseline="middle", text_color="#333333")

leg.text(x=[6], y=[137], text=["Number of SNPs"], text_font=value(FONT), text_font_size="7.5px",
         text_baseline="middle", text_color="black")
key_y = [132.4, 126.6, 120.2]
leg.scatter(x=[10.8] * 3, y=key_y, size=snp_size(nsnp_breaks), color="black", alpha=0.55, line_width=0)
leg.text(x=[16.5] * 3, y=key_y, text=[str(v) for v in nsnp_breaks],
         text_font=value(FONT), text_font_size="5.5px", text_baseline="middle", text_color="#333333")

layout = column(top, mid, row(bl, br, leg, spacing=0), spacing=0)
open("out.html", "w").write(file_html(layout, INLINE))
